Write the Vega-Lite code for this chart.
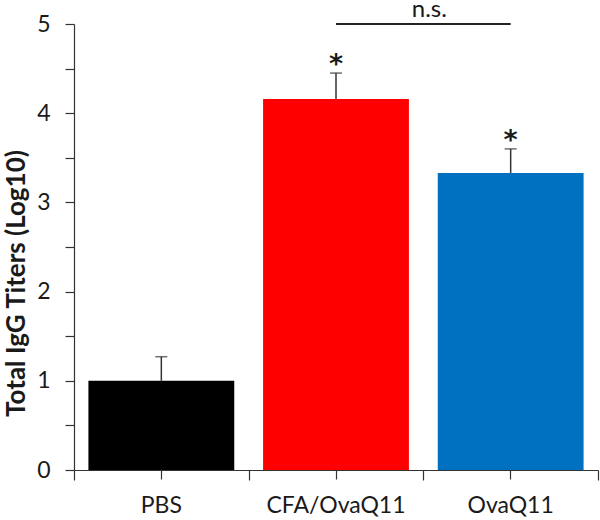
{
  "$schema": "https://vega.github.io/schema/vega-lite/v6.json",
  "width": 524,
  "height": 446,
  "autosize": "none",
  "padding": {"left": 74, "top": 24, "right": 2, "bottom": 50},
  "background": "white",
  "config": {"view": {"stroke": null}, "font": "Lato"},
  "datasets": {
    "bars": [
      {"group": "PBS", "mean": 1.0, "upper": 1.27, "star": ""},
      {"group": "CFA/OvaQ11", "mean": 4.16, "upper": 4.45, "star": "*"},
      {"group": "OvaQ11", "mean": 3.33, "upper": 3.6, "star": "*"}
    ],
    "brackets": [
      {"from": "CFA/OvaQ11", "to": "OvaQ11", "level": 5, "label": "n.s."}
    ]
  },
  "resolve": {"axis": {"x": "independent"}},
  "layer": [
    {
      "data": {"name": "bars"},
      "mark": {"type": "bar", "width": {"band": 0.835}},
      "encoding": {
        "x": {
          "field": "group", "type": "nominal", "sort": null,
          "scale": {"domain": ["PBS", "CFA/OvaQ11", "OvaQ11"], "paddingInner": 0, "paddingOuter": 0},
          "axis": {
            "title": null, "orient": "bottom", "labelAngle": 0,
            "labelFont": "Lato", "labelFontSize": 23, "labelColor": "#1a1a1a", "labelPadding": 15,
            "tickSize": 9, "tickColor": "#333", "tickWidth": 1.2,
            "domainColor": "#333", "domainWidth": 1.2
          }
        },
        "y": {
          "field": "mean", "type": "quantitative",
          "scale": {"domain": [0, 5], "nice": false},
          "axis": {
            "title": "Total IgG Titers (Log10)",
            "titleFont": "Lato", "titleFontSize": 26, "titleFontWeight": "bold", "titleColor": "#1a1a1a", "titlePadding": 7,
            "titleY": 259,
            "values": [0, 0.5, 1, 1.5, 2, 2.5, 3, 3.5, 4, 4.5, 5],
            "labelExpr": "datum.value % 1 === 0 ? format(datum.value, 'd') : ''",
            "labelFont": "Lato", "labelFontSize": 23, "labelColor": "#1a1a1a", "labelPadding": 15,
            "tickSize": 9, "tickColor": "#333", "tickWidth": 1.2,
            "domainColor": "#333", "domainWidth": 1.2, "grid": false
          }
        },
        "color": {
          "field": "group", "type": "nominal", "legend": null,
          "scale": {"domain": ["PBS", "CFA/OvaQ11", "OvaQ11"], "range": ["#000000", "#FF0000", "#0070C0"]}
        }
      }
    },
    {
      "data": {"name": "bars"},
      "mark": {"type": "rule", "color": "#333", "strokeWidth": 1.5},
      "encoding": {
        "x": {"field": "group", "type": "nominal", "sort": null, "axis": null},
        "y": {"field": "mean", "type": "quantitative"},
        "y2": {"field": "upper"}
      }
    },
    {
      "data": {"name": "bars"},
      "mark": {"type": "tick", "color": "#333", "size": 12, "thickness": 1.5, "orient": "horizontal"},
      "encoding": {
        "x": {"field": "group", "type": "nominal", "sort": null, "axis": null},
        "y": {"field": "upper", "type": "quantitative"}
      }
    },
    {
      "data": {"name": "bars"},
      "mark": {"type": "text", "font": "DejaVu Sans", "fontSize": 27, "fontWeight": "bold", "color": "#1a1a1a", "baseline": "middle", "dy": -8},
      "encoding": {
        "x": {"field": "group", "type": "nominal", "sort": null, "axis": null},
        "y": {"field": "upper", "type": "quantitative"},
        "text": {"field": "star"}
      }
    },
    {
      "data": {"name": "brackets"},
      "mark": {"type": "rule", "color": "#222", "strokeWidth": 2},
      "encoding": {
        "x": {
          "field": "from", "type": "nominal", "sort": null,
          "axis": {
            "title": null, "orient": "bottom", "tickBand": "extent", "labels": false, "domain": false,
            "tickSize": 10, "tickColor": "#333", "tickWidth": 1.2
          }
        },
        "x2": {"field": "to"},
        "y": {"field": "level", "type": "quantitative"}
      }
    },
    {
      "data": {"name": "brackets"},
      "mark": {"type": "text", "font": "Lato", "fontSize": 24, "color": "#1a1a1a", "baseline": "alphabetic", "dy": -7, "dx": 6},
      "encoding": {
        "x": {"field": "from", "type": "nominal", "sort": null, "bandPosition": 1, "axis": null},
        "y": {"field": "level", "type": "quantitative"},
        "text": {"field": "label"}
      }
    }
  ]
}
